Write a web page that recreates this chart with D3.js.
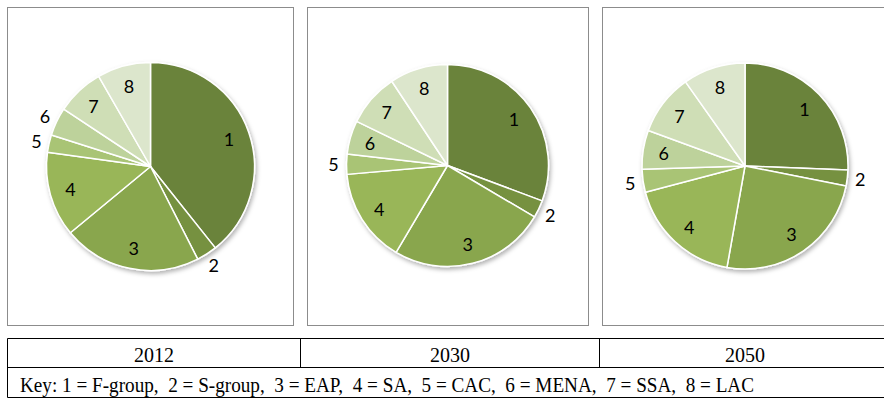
<!DOCTYPE html>
<html>
<head>
<meta charset="utf-8">
<script src="https://cdn.jsdelivr.net/npm/d3@7"></script>
<style>
  body { margin: 0; background: #fff; }
  svg { display: block; }
</style>
</head>
<body>
<svg id="chart"></svg>
<script>
const years = ['2012', '2030', '2050']
const groups = ['1', '2', '3', '4', '5', '6', '7', '8']
const keyNames = ['F-group', 'S-group', 'EAP', 'SA', 'CAC', 'MENA', 'SSA', 'LAC']
const share2012 = [39.3, 3.2, 21.5, 13.2, 2.7, 4.4, 7.4, 8.3]
const share2030 = [30.7, 2.8, 25.0, 15.1, 3.2, 5.4, 8.5, 9.3]
const share2050 = [25.6, 2.5, 24.7, 18.1, 3.6, 6.1, 9.6, 9.8]
const shares = [share2012, share2030, share2050]

const width = 884
const height = 399
const svg = d3.select('#chart')
              .attr('width', width)
              .attr('height', height)

// panel frames and pie placement
const panels = [
  { x: 7.5, w: 286, cx: 150.5, cy: 166.5, r: 104 },
  { x: 307.5, w: 281, cx: 447.5, cy: 165.5, r: 101 },
  { x: 602.5, w: 300, cx: 745, cy: 166, r: 103 }
]
const panelTop = 7.5
const panelBottom = 325.5

const colorScale = d3.scaleOrdinal()
                     .domain(groups)
                     .range(['#6b833b', '#76913f', '#89a64e', '#99b659', '#a9c474', '#bdd29b', '#cfdeb6', '#dce6cc'])

const defs = svg.append('defs')
defs.append('filter')
    .attr('id', 'shadow')
    .attr('x', '-20%').attr('y', '-20%')
    .attr('width', '140%').attr('height', '140%')
    .append('feDropShadow')
    .attr('dx', 1.5).attr('dy', 2.5)
    .attr('stdDeviation', 2)
    .attr('flood-color', '#000')
    .attr('flood-opacity', 0.3)

const pie = d3.pie().sort(null).value(d => d)

panels.forEach((p, i) => {
  svg.append('rect')
     .attr('x', p.x)
     .attr('y', panelTop)
     .attr('width', p.w)
     .attr('height', panelBottom - panelTop)
     .attr('fill', '#fff')
     .attr('stroke', '#8c8c8c')
     .attr('stroke-width', 1)

  const arcs = pie(shares[i])
  const arc = d3.arc().innerRadius(0).outerRadius(p.r)
  const g = svg.append('g')
               .attr('transform', `translate(${p.cx}, ${p.cy})`)

  g.append('g')
   .attr('filter', 'url(#shadow)')
   .selectAll('path')
   .data(arcs)
   .join('path')
   .attr('d', arc)
   .attr('fill', (d, j) => colorScale(groups[j]))
   .attr('stroke', '#fff')
   .attr('stroke-width', 1.5)
   .attr('stroke-linejoin', 'round')

  const inside = d3.arc().innerRadius(p.r * 0.8).outerRadius(p.r * 0.8)
  const outside = d3.arc().innerRadius(p.r + 13).outerRadius(p.r + 13)

  g.selectAll('text')
   .data(arcs)
   .join('text')
   .attr('transform', d => {
     const [x, y] = (d.value < 5 ? outside : inside).centroid(d)
     return `translate(${x}, ${y})`
   })
   .attr('text-anchor', 'middle')
   .attr('dominant-baseline', 'central')
   .style('font-family', 'Lato, "Noto Sans", sans-serif')
   .style('font-size', '18px')
   .attr('fill', '#000')
   .text((d, j) => groups[j])
})

// table underneath
const tableLeft = 7.5
const tableRight = 900
const rowTop = 338.5
const rowMid = 367.5
const rowBottom = 397.5
const colEdges = [tableLeft, 300.5, 599.5, tableRight]

const table = svg.append('g')
                 .attr('stroke', '#000')
                 .attr('stroke-width', 1)
table.append('line').attr('x1', tableLeft).attr('x2', tableRight).attr('y1', rowTop).attr('y2', rowTop)
table.append('line').attr('x1', tableLeft).attr('x2', tableRight).attr('y1', rowMid).attr('y2', rowMid)
table.append('line').attr('x1', tableLeft).attr('x2', tableRight).attr('y1', rowBottom).attr('y2', rowBottom)
table.append('line').attr('x1', tableLeft).attr('x2', tableLeft).attr('y1', rowTop).attr('y2', rowBottom)
table.selectAll('line.col')
     .data(colEdges.slice(1, 3))
     .join('line')
     .classed('col', true)
     .attr('x1', d => d).attr('x2', d => d)
     .attr('y1', rowTop).attr('y2', rowMid)

svg.selectAll('text.year')
   .data(years)
   .join('text')
   .classed('year', true)
   .attr('x', (d, i) => i < 2 ? (colEdges[i] + colEdges[i + 1]) / 2 : 745)
   .attr('y', 362)
   .attr('text-anchor', 'middle')
   .style('font-family', '"Liberation Serif", "Times New Roman", serif')
   .style('font-size', '20px')
   .text(d => d)

const keyText = 'Key: ' + groups.map((g, i) => `${g} = ${keyNames[i]}`).join(',  ')
svg.append('text')
   .attr('x', 20)
   .attr('y', 392)
   .attr('textLength', 734)
   .attr('lengthAdjust', 'spacingAndGlyphs')
   .style('white-space', 'pre')
   .style('font-family', '"Liberation Serif", "Times New Roman", serif')
   .style('font-size', '21px')
   .text(keyText)
</script>
</body>
</html>
